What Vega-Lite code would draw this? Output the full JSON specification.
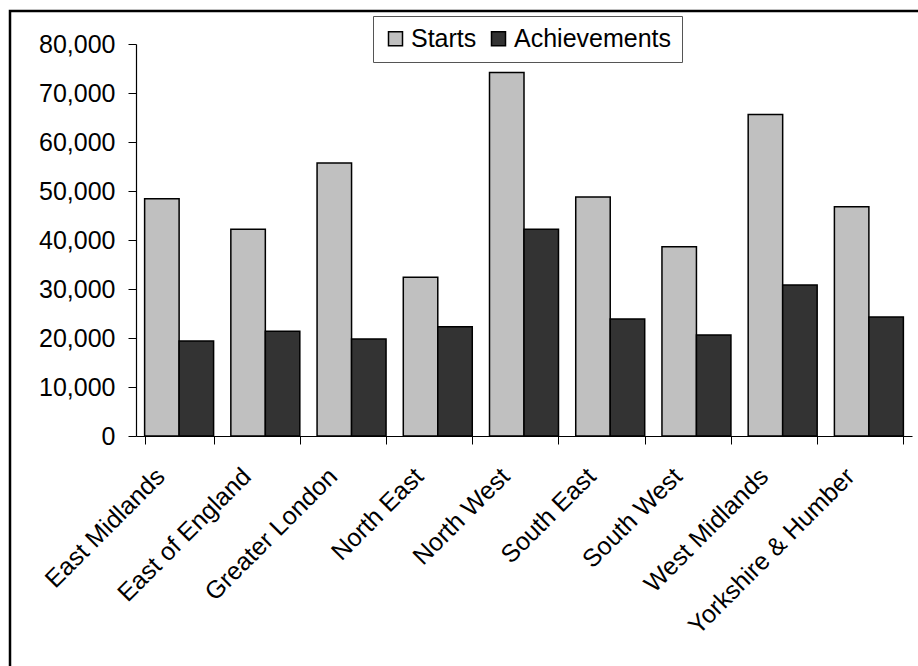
{
  "$schema": "https://vega.github.io/schema/vega-lite/v6.json",
  "width": 920,
  "height": 660,
  "autosize": {"type": "none"},
  "padding": {"left": 10, "top": 11, "right": 0, "bottom": 0},
  "background": "white",
  "config": {
    "font": "Liberation Sans",
    "view": {"stroke": "black", "strokeWidth": 2.5},
    "axis": {"labelFont": "Liberation Sans", "labelColor": "black", "domainColor": "black", "tickColor": "black", "labelFontSize": 25, "grid": false, "labelLimit": 400}
  },
  "data": {
    "values": [
      {"region": "East Midlands", "series": "Starts", "value": 48400},
      {"region": "East Midlands", "series": "Achievements", "value": 19400},
      {"region": "East of England", "series": "Starts", "value": 42200},
      {"region": "East of England", "series": "Achievements", "value": 21400},
      {"region": "Greater London", "series": "Starts", "value": 55700},
      {"region": "Greater London", "series": "Achievements", "value": 19800},
      {"region": "North East", "series": "Starts", "value": 32400},
      {"region": "North East", "series": "Achievements", "value": 22300},
      {"region": "North West", "series": "Starts", "value": 74200},
      {"region": "North West", "series": "Achievements", "value": 42200},
      {"region": "South East", "series": "Starts", "value": 48800},
      {"region": "South East", "series": "Achievements", "value": 23900},
      {"region": "South West", "series": "Starts", "value": 38600},
      {"region": "South West", "series": "Achievements", "value": 20600},
      {"region": "West Midlands", "series": "Starts", "value": 65600},
      {"region": "West Midlands", "series": "Achievements", "value": 30800},
      {"region": "Yorkshire & Humber", "series": "Starts", "value": 46800},
      {"region": "Yorkshire & Humber", "series": "Achievements", "value": 24300}
    ]
  },
  "mark": {"type": "bar", "stroke": "black", "strokeWidth": 1.5},
  "encoding": {
    "x": {
      "field": "region",
      "type": "nominal",
      "sort": null,
      "scale": {"range": [126, 902], "paddingInner": 0.2, "paddingOuter": 0.1},
      "axis": {
        "title": null,
        "labelAngle": -45,
        "labelAlign": "right",
        "labelBaseline": "middle",
        "labelPadding": 28,
        "labelOffset": -19,
        "tickBand": "extent",
        "tickSize": 8,
        "offset": -235,
        "domainWidth": 1.2
      }
    },
    "xOffset": {"field": "series", "type": "nominal", "sort": ["Starts", "Achievements"]},
    "y": {
      "field": "value",
      "type": "quantitative",
      "scale": {"domain": [0, 80000], "range": [425, 33], "nice": false},
      "axis": {
        "title": null,
        "values": [0, 10000, 20000, 30000, 40000, 50000, 60000, 70000, 80000],
        "format": ",d",
        "tickSize": 8,
        "labelPadding": 13,
        "offset": -126,
        "domainWidth": 1.2
      }
    },
    "color": {
      "field": "series",
      "type": "nominal",
      "sort": ["Starts", "Achievements"],
      "scale": {"domain": ["Starts", "Achievements"], "range": ["#c0c0c0", "#333333"]},
      "legend": {
        "title": null,
        "orient": "none",
        "legendX": 363,
        "legendY": 5,
        "direction": "horizontal",
        "strokeColor": "#555555",
        "padding": 10,
        "symbolType": "square",
        "symbolSize": 196,
        "symbolStrokeColor": "black",
        "symbolStrokeWidth": 1.5,
        "symbolOpacity": 1,
        "labelFontSize": 25,
        "labelFont": "Liberation Sans",
        "labelColor": "black",
        "labelOffset": 3,
        "columnPadding": 9,
        "fillColor": "white"
      }
    }
  }
}
